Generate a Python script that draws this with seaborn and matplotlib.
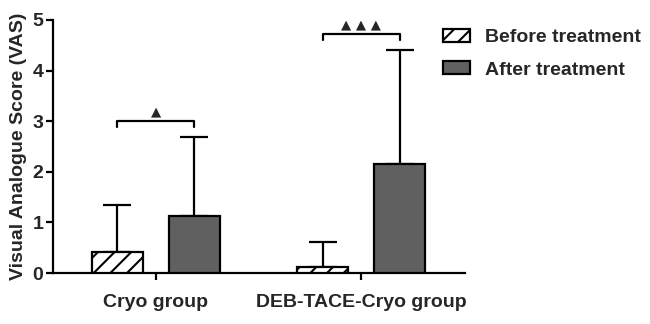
import matplotlib
matplotlib.use("Agg")
import matplotlib.pyplot as plt
from matplotlib.patches import Patch
import seaborn as sns
import pandas as pd
import numpy as np

groups = ["Cryo group", "DEB-TACE-Cryo group"]
phases = ["Before treatment", "After treatment"]
mean_before = [0.41, 0.12]
mean_after = [1.13, 2.15]
sd_before = [0.93, 0.49]
sd_after = [1.56, 2.26]
sig_marks = ["▲", "▲ ▲ ▲"]

sns.set_style("ticks")
plt.rcParams["font.family"] = ["Liberation Sans", "DejaVu Sans"]
plt.rcParams["font.weight"] = "bold"
plt.rcParams["hatch.linewidth"] = 1.5

df = pd.DataFrame({
    "group": groups * 2,
    "phase": [phases[0]] * 2 + [phases[1]] * 2,
    "score": mean_before + mean_after,
})

fig = plt.figure(figsize=(6.5, 3.24), dpi=100)
ax = fig.add_axes([53 / 650, 51 / 324, 412 / 650, 253 / 324])

sns.barplot(data=df, x="group", y="score", hue="phase", order=groups,
            hue_order=phases, width=0.75, gap=1 / 3, errorbar=None,
            edgecolor="black", linewidth=1.6, ax=ax, legend=False)

colors = ["white", "#606060"]
hatches = ["//", ""]
sds = [sd_before, sd_after]
for cont, col, h, sd in zip(ax.containers, colors, hatches, sds):
    xs, ys = [], []
    for bar in cont:
        bar.set_facecolor(col)
        bar.set_hatch(h)
        bar.set_zorder(3)
        xs.append(bar.get_x() + bar.get_width() / 2)
        ys.append(bar.get_height())
    ax.errorbar(xs, ys, yerr=[np.zeros(len(sd)), sd], fmt="none",
                ecolor="black", elinewidth=1.6, capsize=10, capthick=1.6,
                zorder=2)

# significance brackets
for i, mark in enumerate(sig_marks):
    b0 = ax.containers[0][i]
    b1 = ax.containers[1][i]
    x0 = b0.get_x() + b0.get_width() / 2
    x1 = b1.get_x() + b1.get_width() / 2
    top = max(mean_before[i] + sd_before[i], mean_after[i] + sd_after[i])
    yb = top + 0.31
    ax.plot([x0, x0, x1, x1], [yb - 0.12, yb, yb, yb - 0.12],
            color="black", lw=1.6, clip_on=False)
    ax.text((x0 + x1) / 2, yb + 0.06, mark, ha="center", va="bottom",
            fontsize=9.5, family=["DejaVu Sans"])

ax.set_ylim(0, 5)
ax.set_xlim(-0.5, 1.505)
ax.set_yticks(range(6))
ax.set_xlabel("")
ax.set_ylabel("Visual Analogue Score (VAS)", fontsize=14, fontweight="bold",
              labelpad=4)
ax.tick_params(axis="both", labelsize=14, width=1.6, length=5, color="black")
ax.tick_params(axis="y", pad=2)
ax.tick_params(axis="x", length=5, pad=10)
for lab in ax.get_xticklabels() + ax.get_yticklabels():
    lab.set_fontweight("bold")
sns.despine(ax=ax)
for s in ["left", "bottom"]:
    ax.spines[s].set_linewidth(1.6)
    ax.spines[s].set_color("black")

handles = [Patch(facecolor=c, edgecolor="black", hatch=h, linewidth=1.6)
           for c, h in zip(colors, hatches)]
fig.legend(handles, phases, loc="upper left",
           bbox_to_anchor=(443 / 650, 1 - 29 / 324), borderaxespad=0,
           borderpad=0, frameon=False, handlelength=1.4, handleheight=0.65,
           labelspacing=0.78, handletextpad=0.75,
           prop={"weight": "bold", "size": 14})

fig.savefig("out.png", dpi=100)
